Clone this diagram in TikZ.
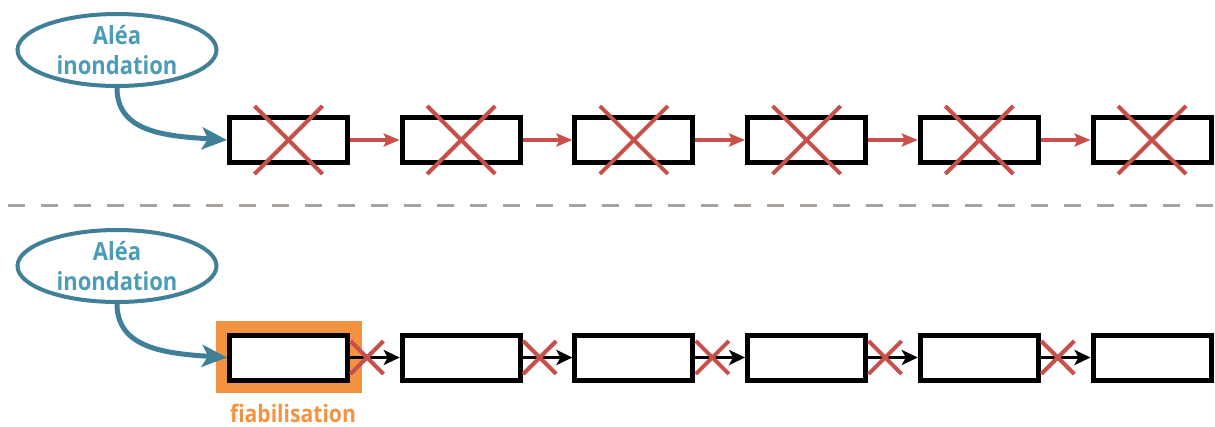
\documentclass[tikz,border=0pt]{standalone}
\usepackage{fontspec}
\newfontfamily\lfont{Open Sans}[FakeStretch=0.88]
\usetikzlibrary{shapes.geometric,shapes.misc,arrows.meta}
\definecolor{tealline}{HTML}{3F7F97}
\definecolor{tealtext}{HTML}{4B9CB7}
\definecolor{crossred}{HTML}{C8504B}
\definecolor{orangefill}{HTML}{F39341}
\definecolor{dashgray}{HTML}{A8A39E}
\tikzset{
  alea/.style={ellipse, draw=tealline, line width=4pt, minimum width=199pt, minimum height=72pt,
    inner sep=0pt, text=tealtext, align=center, font=\lfont\bfseries\fontsize{25}{30}\selectfont},
  stepbox/.style={draw=black, fill=white, line width=5pt, minimum width=118pt, minimum height=45pt, inner sep=0pt},
  bigcross/.style={cross out, draw=crossred, line width=4pt, minimum width=64pt, minimum height=64pt, inner sep=0pt},
  smallcross/.style={cross out, draw=crossred, line width=4pt, minimum width=29pt, minimum height=29pt, inner sep=0pt},
  redlink/.style={draw=crossred, line width=3.5pt, -{Stealth[length=16pt, width=13pt, inset=3pt]}},
  blacklink/.style={draw=black, line width=3pt, -{Stealth[length=16pt, width=15pt, inset=4pt]}},
  tealarrow/.style={draw=tealline, line width=5pt, -{Stealth[length=25pt, width=22pt, inset=6pt]}},
  fiab/.style={fill=orangefill, minimum width=146pt, minimum height=72pt, inner sep=0pt},
  fiabtext/.style={text=orangefill, font=\lfont\bfseries\fontsize{24}{28}\selectfont, inner sep=0pt},
  sep/.style={draw=dashgray, line width=3pt, dash pattern=on 17pt off 16pt}
}
\begin{document}
\begin{tikzpicture}[x=1pt,y=-1pt]
\useasboundingbox (0,0) rectangle (1215,426);
% separator
\coordinate (sepL) at (8,205);
\coordinate (sepR) at (1215,205);
\draw[sep] (sepL) -- (sepR);
% top row
\node[alea] (e1) at (117,50) {Aléa\\inondation};
\foreach \i/\x in {1/288.5,2/461.2,3/633.9,4/806.6,5/979.3,6/1152}{
  \node[stepbox] (t\i) at (\x,140) {};
  \node[bigcross] (tx\i) at (\x,140) {};
}
\foreach \i/\j in {1/2,2/3,3/4,4/5,5/6}{
  \draw[redlink] (t\i.east) -- (t\j.west);
}
\draw[tealarrow] (e1.south) .. controls +(0,44) and +(-62,-4) .. (t1.west);
% bottom row
\node[alea] (e2) at (117,266) {Aléa\\inondation};
\node[fiab] (o1) at (289,357) {};
\foreach \i/\x in {1/288.5,2/461.2,3/633.9,4/806.6,5/979.3,6/1152}{
  \node[stepbox] (b\i) at (\x,357.5) {};
}
\foreach \i/\j in {1/2,2/3,3/4,4/5,5/6}{
  \draw[blacklink] (b\i.east) -- (b\j.west);
  \node[smallcross] (bx\i) at ([xshift=17pt]b\i.east) {};
}
\draw[tealarrow] (e2.south) .. controls +(0,44) and +(-62,-4) .. (b1.west);
\node[fiabtext, anchor=base] (f1) at (293,422) {fiabilisation};
\end{tikzpicture}
\end{document}
